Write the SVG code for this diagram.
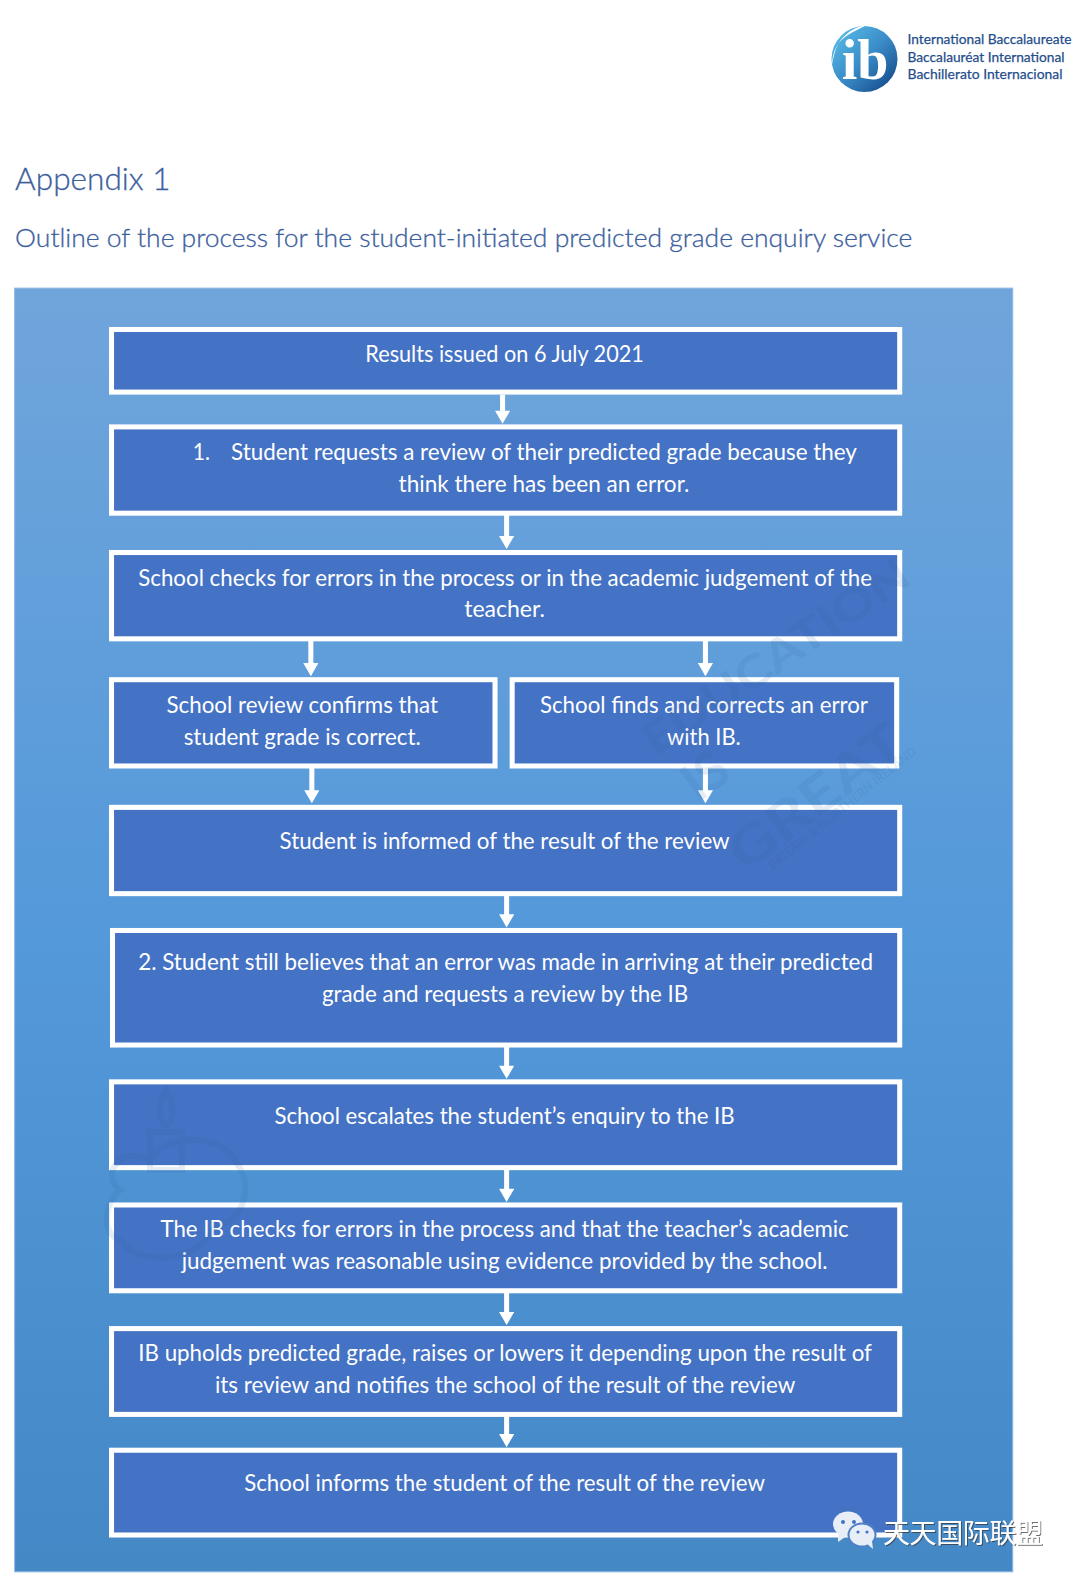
<svg xmlns="http://www.w3.org/2000/svg" width="1080" height="1582" viewBox="0 0 1080 1582">
<style>
.box{fill:#4472C4;stroke:#fff;stroke-width:5}
.t{font-family:Lato,"Open Sans","Liberation Sans",sans-serif;font-size:22px;fill:#fff}
.h{font-family:Lato,"Open Sans","Liberation Sans",sans-serif;font-weight:300;fill:#3D5F9E;stroke:#3D5F9E;stroke-width:.3}
.l{font-family:Lato,"Open Sans","Liberation Sans",sans-serif;font-size:14px;fill:#1F4E8C;stroke:#1F4E8C;stroke-width:.25}
.c{stroke:#fff;stroke-width:5;fill:none;marker-end:url(#a)}
.w{font-family:Lato,"Liberation Sans",sans-serif;font-weight:700;fill:#2F5F9F;fill-opacity:.12}
.e{fill:#4472C4}
.b{fill:#E8EEF7}
</style>
<defs>
<marker id="a" markerUnits="userSpaceOnUse" markerWidth="14" markerHeight="15" refX="3" refY="7.5" orient="auto" viewBox="0 0 13 15"><path d="M0 0L13 7.500L0 15Z" fill="#fff"/></marker>
<linearGradient id="bg" x1="0" y1="0" x2="0" y2="1"><stop offset="0" stop-color="#70A5DB"/><stop offset=".5" stop-color="#5499DA"/><stop offset="1" stop-color="#4488C6"/></linearGradient>
<linearGradient id="ball" x1="0" y1="0" x2="1" y2="1"><stop offset="0" stop-color="#5CC3EC"/><stop offset=".5" stop-color="#3A8CC8"/><stop offset="1" stop-color="#0F3F80"/></linearGradient>
<filter id="sh" x="-5%" y="-20%" width="110%" height="140%"><feDropShadow dx="1" dy="1" stdDeviation=".4" flood-color="#333" flood-opacity=".7"/></filter>
</defs>
<rect width="1080" height="1582" fill="#fff"/>
<g id="logo">
<circle cx="864.500" cy="59" r="33" fill="url(#ball)"/>
<path d="M832 65C832 45 848 27 866 25.500C850 33 842 38 838 44C835 50 833 58 832 65Z" fill="#fff"/>
<text x="865" y="79" text-anchor="middle" font-family="Liberation Serif,serif" font-size="56" font-weight="700" fill="#fff">ib</text>
<text class="l" x="907.500" y="44" textLength="164" lengthAdjust="spacingAndGlyphs">International Baccalaureate</text>
<text class="l" x="907.500" y="61.500" textLength="157" lengthAdjust="spacingAndGlyphs">Baccalauréat International</text>
<text class="l" x="907.500" y="79" textLength="155" lengthAdjust="spacingAndGlyphs">Bachillerato Internacional</text>
</g>
<g transform="scale(1.0092)">
<text class="h" x="15" y="188.500" font-size="31" textLength="154" lengthAdjust="spacingAndGlyphs">Appendix 1</text>
<text class="h" x="15" y="244.500" font-size="25" textLength="889" lengthAdjust="spacingAndGlyphs">Outline of the process for the student-initiated predicted grade enquiry service</text>
<rect id="panel" x="14.500" y="285.500" width="989" height="1272" fill="url(#bg)" stroke="#8DB8E2" stroke-width="1"/>
<g id="connectors">
<path class="c" d="M498 391V410"/>
<path class="c" d="M502 510V534"/>
<path class="c" d="M308 635V660"/>
<path class="c" d="M699 635V660"/>
<path class="c" d="M309 761V786"/>
<path class="c" d="M699 761V786"/>
<path class="c" d="M502 887V909"/>
<path class="c" d="M502 1037V1059"/>
<path class="c" d="M502 1158V1181"/>
<path class="c" d="M502 1280V1303"/>
<path class="c" d="M502 1403V1424"/>
</g>
<g id="n1"><rect class="box" x="110.500" y="326.500" width="781" height="62"/><text class="t" x="362" y="358.500" textLength="276" lengthAdjust="spacingAndGlyphs">Results issued on 6 July 2021</text></g>
<g id="n2"><rect class="box" x="110.500" y="423" width="781" height="85.500"/><text class="t" x="191" y="456" textLength="17" lengthAdjust="spacingAndGlyphs">1.</text><text class="t" x="229" y="456" textLength="620" lengthAdjust="spacingAndGlyphs">Student requests a review of their predicted grade because they</text><text class="t" x="395" y="487.500" textLength="288" lengthAdjust="spacingAndGlyphs">think there has been an error.</text></g>
<g id="n3"><rect class="box" x="110.500" y="547.500" width="781" height="85.500"/><text class="t" x="137" y="580.500" textLength="727" lengthAdjust="spacingAndGlyphs">School checks for errors in the process or in the academic judgement of the</text><text class="t" x="460" y="611.500" textLength="80" lengthAdjust="spacingAndGlyphs">teacher.</text></g>
<g id="n4"><rect class="box" x="110.500" y="673.500" width="380" height="85.500"/><text class="t" x="165" y="706.500" textLength="269" lengthAdjust="spacingAndGlyphs">School review confirms that</text><text class="t" x="182" y="738" textLength="235" lengthAdjust="spacingAndGlyphs">student grade is correct.</text></g>
<g id="n5"><rect class="box" x="507.500" y="673.500" width="381" height="85.500"/><text class="t" x="535" y="706.500" textLength="325" lengthAdjust="spacingAndGlyphs">School finds and corrects an error</text><text class="t" x="661" y="738" textLength="73" lengthAdjust="spacingAndGlyphs">with IB.</text></g>
<g id="n6"><rect class="box" x="110.500" y="800" width="781" height="85.500"/><text class="t" x="277" y="841" textLength="446" lengthAdjust="spacingAndGlyphs">Student is informed of the result of the review</text></g>
<g id="n7"><rect class="box" x="111.500" y="922" width="780" height="113.500"/><text class="t" x="137" y="961" textLength="728" lengthAdjust="spacingAndGlyphs">2. Student still believes that an error was made in arriving at their predicted</text><text class="t" x="319" y="993" textLength="363" lengthAdjust="spacingAndGlyphs">grade and requests a review by the IB</text></g>
<g id="n8"><rect class="box" x="110.500" y="1072" width="781" height="85"/><text class="t" x="272" y="1113.500" textLength="456" lengthAdjust="spacingAndGlyphs">School escalates the student’s enquiry to the IB</text></g>
<g id="n9"><rect class="box" x="110.500" y="1194" width="781" height="85"/><text class="t" x="159" y="1226" textLength="682" lengthAdjust="spacingAndGlyphs">The IB checks for errors in the process and that the teacher’s academic</text><text class="t" x="180" y="1257" textLength="640" lengthAdjust="spacingAndGlyphs">judgement was reasonable using evidence provided by the school.</text></g>
<g id="n10"><rect class="box" x="110.500" y="1316.500" width="781" height="85"/><text class="t" x="137" y="1349" textLength="727" lengthAdjust="spacingAndGlyphs">IB upholds predicted grade, raises or lowers it depending upon the result of</text><text class="t" x="213" y="1380" textLength="575" lengthAdjust="spacingAndGlyphs">its review and notifies the school of the result of the review</text></g>
<g id="n11"><rect class="box" x="110.500" y="1437" width="781" height="84"/><text class="t" x="242" y="1477" textLength="516" lengthAdjust="spacingAndGlyphs">School informs the student of the result of the review</text></g>
</g>
<g id="faint-marks">
<text class="w" transform="translate(655 757) rotate(-34)" font-size="44" textLength="312" lengthAdjust="spacingAndGlyphs">EDUCATION</text>
<text class="w" transform="translate(698 803) rotate(-36)" font-size="52">IS</text>
<text class="w" transform="translate(745 873) rotate(-37)" font-size="52" textLength="205" lengthAdjust="spacingAndGlyphs">GREAT</text>
<text class="w" transform="translate(773 870) rotate(-39)" font-size="13" textLength="186" lengthAdjust="spacingAndGlyphs">BRITAIN &amp; NORTHERN IRELAND</text>
<path d="M166 1090C158 1104 157 1118 166 1126C175 1118 174 1104 166 1090ZM150 1132H182V1170H150ZM120 1190C100 1175 120 1145 150 1160C170 1130 225 1135 238 1165C255 1190 240 1225 215 1225C205 1260 140 1270 120 1240C100 1235 105 1200 120 1190Z" fill="none" stroke="#2F5F9F" stroke-opacity=".12" stroke-width="6"/>
</g>
<g id="wechat-mark">
<ellipse class="b" cx="848" cy="1524" rx="15" ry="12.500"/><path class="b" d="M838 1532L838 1542L848 1535Z"/>
<ellipse cx="862" cy="1535" rx="14.500" ry="12.500" fill="#4F7FC4"/>
<ellipse class="b" cx="862" cy="1535" rx="12.500" ry="10.500"/><path class="b" d="M866 1543L873 1549L872 1541Z"/>
<circle class="e" cx="843" cy="1522" r="2"/><circle class="e" cx="854" cy="1522" r="2"/><circle class="e" cx="858" cy="1532" r="1.600"/><circle class="e" cx="867" cy="1532" r="1.600"/>
<text x="883" y="1543" font-family="Noto Sans CJK SC,sans-serif" font-size="27" fill="#fff" filter="url(#sh)" textLength="160">天天国际联盟</text>
</g>
</svg>
